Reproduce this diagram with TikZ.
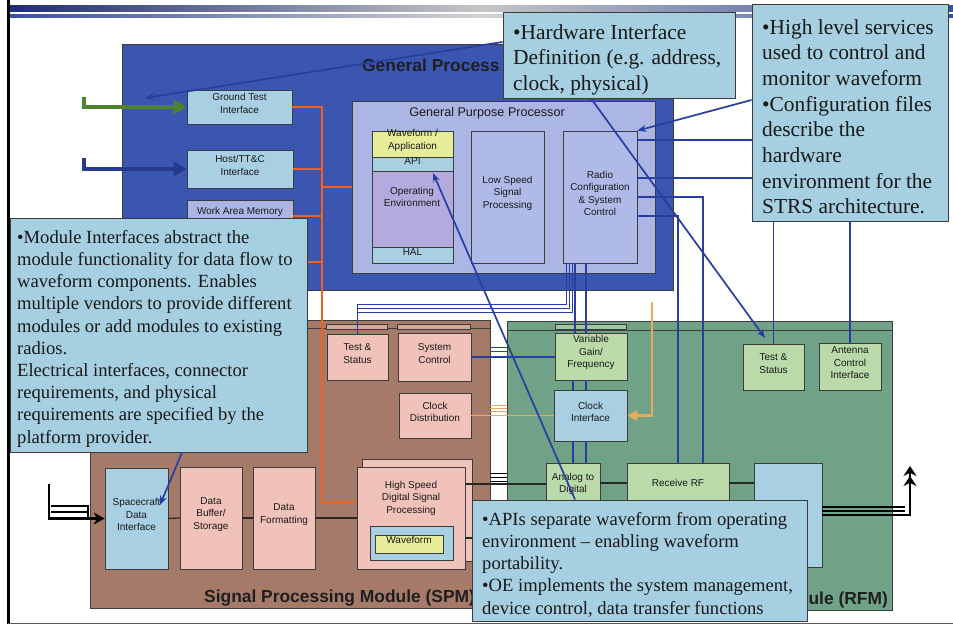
\documentclass[tikz,border=0pt]{standalone}
\usepackage{fontspec}
\setmainfont{Liberation Serif}
\setsansfont{Liberation Sans}
\usetikzlibrary{fit,arrows.meta}

\definecolor{gpmblue}{RGB}{58,86,176}
\definecolor{gppfill}{RGB}{172,182,228}
\definecolor{lsfill}{RGB}{176,186,232}
\definecolor{oefill}{RGB}{180,170,222}
\definecolor{ltblue}{RGB}{168,208,226}
\definecolor{callfill}{RGB}{166,207,226}
\definecolor{wfyellow}{RGB}{230,236,152}
\definecolor{spmbrown}{RGB}{166,122,104}
\definecolor{pinkbox}{RGB}{240,194,186}
\definecolor{tabpink}{RGB}{214,168,156}
\definecolor{rfmgreen}{RGB}{112,162,136}
\definecolor{palegreen}{RGB}{186,218,170}
\definecolor{tabgreen}{RGB}{160,200,160}
\definecolor{lineblue}{RGB}{40,62,160}
\definecolor{busorange}{RGB}{234,98,36}
\definecolor{clkorange}{RGB}{232,170,90}
\definecolor{arrgreen}{RGB}{78,130,44}
\definecolor{arrblue}{RGB}{38,58,140}
\definecolor{bordergray}{RGB}{60,60,60}
\definecolor{bandnavy}{RGB}{30,45,120}
\definecolor{bandblue}{RGB}{60,80,160}

\begin{document}
\begin{tikzpicture}[x=1pt,y=-1pt,
  box/.style={draw=bordergray, line width=0.7pt, inner sep=0pt, align=center,
    font=\sffamily\fontsize{10}{12.5}\selectfont, text=black!90},
  lbl/.style={inner sep=0pt, align=center, font=\sffamily\fontsize{10}{12.5}\selectfont, text=black!90},
  module/.style={draw=bordergray, line width=0.8pt, inner sep=0pt},
  mtitle/.style={inner sep=0pt, font=\sffamily\bfseries\fontsize{17.4}{20}\selectfont, text=black!88},
  callout/.style={draw=bordergray, line width=1pt, fill=callfill, inner sep=0pt},
  bigtext/.style={inner sep=0pt, align=left, font=\fontsize{21.4}{25.7}\selectfont, text=black!90},
  midtext/.style={inner sep=0pt, align=left, font=\fontsize{18.6}{22.2}\selectfont, text=black!90},
  obus/.style={draw=busorange, line width=2.6pt},
  lbus/.style={draw=lineblue, line width=1.6pt},
  tbus/.style={draw=lineblue, line width=1pt},
  sig/.style={draw=black!85, line width=1.2pt},
  stubline/.style={line width=0.9pt},
  carrow/.style={draw=lineblue, line width=1.7pt, -{Stealth[length=9pt,width=7pt]}},
  tabbox/.style={draw=bordergray, line width=0.5pt}
]
\useasboundingbox (0,0) rectangle (953,626);
\fill[white] (0,0) rectangle (953,626);

% slide frame
\shade[left color=bandnavy, right color=bandblue, middle color=gray!45] (10,6) rectangle (953,12);
\shade[left color=bandblue, right color=bandblue, middle color=gray!35] (10,15) rectangle (953,18);
\draw[line width=2.5pt, black] (8.5,0) -- (8.5,624);
\draw[line width=1.5pt, black!65] (8,623.5) -- (953,623.5);

% ---------------- General Processing Module
\node[module, fill=gpmblue, fit={(122,44)(673,290)}] (gpm) {};
\node[mtitle, anchor=west] (gpmtitle) at (362,65) {General Process};

\node[box, fill=ltblue, fit={(187,90)(292,124)}] (gti) {Ground Test\\Interface};
\node[box, fill=ltblue, fit={(187,150)(293,188)}] (hti) {Host/TT\&C\\Interface};
\node[box, fill=gppfill, fit={(187,200)(293,232)}] (wam) {Work Area Memory};

\node[module, fill=gppfill, fit={(352,101)(655,273)}] (gpp) {};
\node[lbl, font=\sffamily\fontsize{12.6}{14}\selectfont] (gpptitle) at (487,113) {General Purpose Processor};
\node[box, fill=wfyellow, fit={(372,131)(453,157)}, font=\sffamily\fontsize{10}{13}\selectfont] (wfa) {Waveform /\\Application};
\node[box, fill=ltblue, fit={(372,157)(453,171)}] (api) {API};
\node[box, fill=oefill, fit={(372,171)(453,247)}] (oe) {};
\node[lbl] (oetext) at (412,197) {Operating\\Environment};
\node[box, fill=ltblue, fit={(372,247)(453,263)}] (hal) {HAL};
\node[box, fill=lsfill, fit={(471,131)(544,263)}] (lss) {Low Speed\\Signal\\Processing};
\node[box, fill=lsfill, fit={(563,131)(637,263)}] (rcs) {Radio\\Configuration\\\& System\\Control};

% input arrows
\coordinate (gin) at (84,97);
\coordinate (bin) at (84,158);
\draw[arrgreen, line width=4.5pt, -{Triangle[length=13pt,width=14pt]}] (gin) |- (gti.west);
\draw[arrblue, line width=4.5pt, -{Triangle[length=13pt,width=14pt]}] (bin) |- (hti.west);

% ---------------- Signal Processing Module
\node[module, fill=spmbrown, fit={(90,320)(490,608)}] (spm) {};
\draw[bordergray, line width=0.7pt] (spm.north west |- 0,328) -- (spm.north east |- 0,328);
\draw[tabbox, fill=tabpink] (326,324) rectangle (387,329);
\draw[tabbox, fill=tabpink] (397,324) rectangle (470,329);
\node[mtitle, anchor=west] (spmtitle) at (204,598) {Signal Processing Module (SPM)};

\node[box, fill=pinkbox, fit={(327,334)(388,380)}] (sts) {Test \&\\Status};
\node[box, fill=pinkbox, fit={(398,333)(471,381)}] (ssc) {System\\Control};
\node[box, fill=pinkbox, fit={(399,393)(471,438)}] (scd) {Clock\\Distribution};
\node[box, fill=ltblue, fit={(105,468)(168,569)}] (sdi) {Spacecraft\\Data\\Interface};
\node[box, fill=pinkbox, fit={(180,467)(242,569)}] (dbs) {Data\\Buffer/\\Storage};
\node[box, fill=pinkbox, fit={(253,467)(315,569)}] (dfm) {Data\\Formatting};
\node[box, fill=pinkbox, fit={(362,459)(472,561)}] (hss) {};
\node[box, fill=pinkbox, fit={(357,467)(465,569)}] (hsd) {};
\node[lbl] (hsdtext) at (411,498) {High Speed\\Digital Signal\\Processing};
\node[box, fill=ltblue, fit={(370,526)(453,560)}] (wfo) {};
\node[box, fill=wfyellow, fit={(375,535)(443,553)}] (wfi) {Waveform};

% ---------------- RF Module
\node[module, fill=rfmgreen, fit={(507,321)(892,610)}] (rfm) {};
\draw[bordergray, line width=0.7pt] (rfm.north west |- 0,330) -- (rfm.north east |- 0,330);
\draw[tabbox, fill=tabgreen] (555,324) rectangle (626,329);
\node[mtitle, anchor=east] (rfmtitle) at (888,600) {Module (RFM)};

\node[box, fill=palegreen, fit={(555,333)(627,380)}] (vgf) {Variable\\Gain/\\Frequency};
\node[box, fill=ltblue, fit={(554,390)(627,441)}] (cli) {Clock\\Interface};
\node[box, fill=palegreen, fit={(546,463)(600,520)}] (adc) {};
\node[lbl] (adctext) at (573,484) {Analog to\\Digital};
\node[box, fill=palegreen, fit={(627,463)(729,520)}] (rrf) {};
\node[lbl] (rrftext) at (678,483) {Receive RF};
\node[box, fill=ltblue, fit={(754,463)(822,567)}] (big) {};
\node[box, fill=palegreen, fit={(743,344)(804,390)}] (rts) {Test \&\\Status};
\node[box, fill=palegreen, fit={(819,343)(881,390)}] (aci) {Antenna\\Control\\Interface};

% ---------------- orange bus
\coordinate (obtop) at (322,107);
\coordinate (obbot) at (322,502);
\draw[obus] (gti.east) -- (obtop) -- (obbot) -- (obbot -| hsd.west);
\draw[obus] (hti.east) -- (hti.east -| obtop);
\draw[obus] (wam.east) -- (wam.east -| obtop);
\draw[obus] (wam.east |- 0,262) -- (obtop |- 0,262);
\draw[obus] (obtop |- 0,187) -- (gpp.west |- 0,187);

% ---------------- blue control lines
\draw[lbus] (rcs.east |- 0,140) -| (aci.north);
\draw[lbus] (rcs.east |- 0,178) -| (rts.north);
\draw[lbus] (rcs.east |- 0,197) -| ([xshift=25pt]rrf.north);
\draw[lbus] (rcs.east |- 0,216) -| (rrf.north);
\draw[tbus] ([xshift=-34pt]rcs.south) |- (sts.north |- 0,304) -- (sts.north);
\draw[tbus] ([xshift=-31pt]rcs.south) |- (sts.north |- 0,308);
\draw[tbus] ([xshift=-28pt]rcs.south) |- (sts.north |- 0,312);
\draw[lbus] ([xshift=-25pt]rcs.south) -- ([xshift=-25pt]rcs.south |- vgf.north);
\draw[lbus] ([xshift=-14pt]rcs.south) -- ([xshift=-14pt]rcs.south |- vgf.north);
\draw[lbus] (ssc.east) -- (ssc.east -| vgf.west);
\draw[lbus] ([xshift=-18pt]vgf.south) -- ([xshift=-18pt]vgf.south |- cli.north);
\draw[lbus] ([xshift=-5pt]vgf.south) -- ([xshift=-5pt]vgf.south |- cli.north);
\draw[lbus] ([xshift=-17.5pt]cli.south) -- ([xshift=-17.5pt]cli.south |- adc.north);
\draw[lbus] ([xshift=-4.5pt]cli.south) -- ([xshift=-4.5pt]cli.south |- adc.north);

% clock lines
\draw[clkorange, line width=1.2pt] (scd.east) -- (scd.east -| cli.west);
\coordinate (clktop) at (652,302);
\draw[clkorange, line width=2.6pt, -{Triangle[length=10pt,width=10pt]}] (clktop) |- (cli.east);

% data lines
\draw[sig] (sdi.east) -- (dbs.west);
\draw[sig] (dbs.east) -- (dfm.west);
\draw[sig] (dfm.east) -- (hsd.west);
\draw[sig] ([yshift=34pt]hsd.east) -- ([yshift=34pt]hsd.east -| adc.west);
\draw[sig] ([yshift=8.5pt]adc.east) -- ([yshift=8.5pt]adc.east -| rrf.west);
\draw[sig] ([yshift=8.5pt]rrf.east) -- ([yshift=8.5pt]rrf.east -| big.west);
\draw[sig] ([yshift=-20pt]hsd.east) -- ([yshift=-20pt]hsd.east -| big.west);

% bundle stubs in the gap between modules
\foreach \yy in {347,351} \draw[stubline, lineblue] (spm.east |- 0,\yy) -- (rfm.west |- 0,\yy);
\foreach \yy in {405,408,411} \draw[stubline, clkorange] (spm.east |- 0,\yy) -- (rfm.west |- 0,\yy);
\foreach \yy in {473,477,481} \draw[stubline, black] (spm.east |- 0,\yy) -- (rfm.west |- 0,\yy);

% external data in / out
\coordinate (intop) at (49,484);
\draw[black, line width=2.8pt, -{Stealth[length=11pt,width=12pt]}] (intop) |- (sdi.west);
\draw[black, line width=1.6pt] (51,506) -- (88,506) -- (88,518);
\draw[black, line width=1.6pt] (51,512) -- (88,512);
\coordinate (outtip) at (910,466);
\draw[black, line width=2.8pt, -{Stealth[length=10pt,width=13pt] Stealth[length=10pt,width=13pt]}] (big.east) -| (outtip);
\draw[black, line width=1.4pt] (big.east |- 0,507) -- (905,507);
\draw[black, line width=1.4pt] (big.east |- 0,511) -- (905,511);

% ---------------- callouts
\node[callout, fit={(503,13)(735,98)}] (hwc) {};
\node[bigtext, anchor=north west] (hwtext) at (513,24) {•Hardware Interface\\Definition (e.g. address,\\clock, physical)};
\node[callout, fit={(752,5)(948,221)}] (hlc) {};
\node[bigtext, anchor=north west] (hltext) at (762,19) {•High level services\\used to control and\\monitor waveform\\•Configuration files\\describe the\\hardware\\environment for the\\STRS architecture.};
\node[callout, fit={(10,218)(307,452)}] (mic) {};
\node[midtext, anchor=north west] (mitext) at (17,230) {•Module Interfaces abstract the\\module functionality for data flow to\\waveform components. Enables\\multiple vendors to provide different\\modules or add modules to existing\\radios.\\Electrical interfaces, connector\\requirements, and physical\\requirements are specified by the\\platform provider.};
\node[callout, fit={(472,500)(807,621)}] (apc) {};
\node[midtext, anchor=north west] (aptext) at (482,512) {•APIs separate waveform from operating\\environment -- enabling waveform\\portability.\\•OE implements the system management,\\device control, data transfer functions};

% callout pointers
\coordinate (hwtgt) at (145,98);
\coordinate (rtstgt) at (765,338);
\coordinate (apitgt) at (433,173);
\coordinate (sditgt) at (160,505);
\draw[carrow] (hwc.west |- 0,42) -- (hwtgt);
\draw[carrow] ([xshift=-28pt]hwc.south) -- (rtstgt);
\draw[carrow] (hlc.west |- 0,100) -- (rcs.north east);
\draw[carrow] ([xshift=-64.5pt]apc.north) -- (apitgt);
\draw[carrow] ([xshift=23.5pt]mic.south) -- (sditgt);
\end{tikzpicture}
\end{document}
